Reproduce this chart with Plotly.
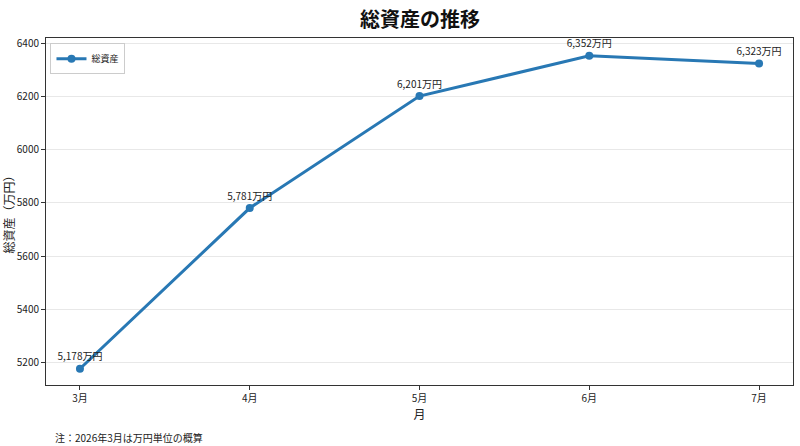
import plotly.graph_objects as go

months = ['3月', '4月', '5月', '6月', '7月']
total_assets = [5178, 5781, 6201, 6352, 6323]
labels = [f'{v:,}万円' for v in total_assets]

FONT = 'Noto Sans CJK JP'
BLUE = '#2878b4'

fig = go.Figure()
fig.add_trace(go.Scatter(
    x=months, y=total_assets, mode='lines+markers+text',
    name='総資産', text=labels, textposition='top center',
    textfont=dict(size=10, color='#222'),
    line=dict(color=BLUE, width=3), marker=dict(color=BLUE, size=8),
    cliponaxis=False,
))

fig.update_layout(
    width=800, height=446,
    font=dict(family=FONT, size=10, color='#222'),
    title=dict(text='<b>総資産の推移</b>', x=0.525, xanchor='center', y=0.97,
               font=dict(size=20, color='#111')),
    paper_bgcolor='white', plot_bgcolor='white',
    margin=dict(l=46, r=7, t=38, b=61, autoexpand=False),
    legend=dict(x=0.006, y=0.985, xanchor='left', yanchor='top',
                bordercolor='#ccc', borderwidth=1, bgcolor='white',
                font=dict(size=9), itemwidth=30, tracegroupgap=0),
    showlegend=True,
    annotations=[dict(text='注：2026年3月は万円単位の概算', xref='paper', yref='paper',
                      x=0.01, y=-0.125, xanchor='left', yanchor='top',
                      showarrow=False, font=dict(size=10))],
)
fig.update_xaxes(range=[-0.2, 4.2], showline=True, linecolor='#333', mirror=True,
                 ticks='outside', ticklen=4, tickcolor='#333', showgrid=False,
                 automargin=False, title=dict(text='月', standoff=4))
fig.update_yaxes(range=[5117, 6419], showline=True, linecolor='#333', mirror=True,
                 ticks='outside', ticklen=4, tickcolor='#333', dtick=200,
                 showgrid=True, gridcolor='#e8e8e8', zeroline=False,
                 automargin=False, title=dict(text='総資産（万円）', standoff=6))

# drop the browser's default page margin so the figure fills the window
fig.write_html('out.html', config={'displayModeBar': False},
               post_script="document.body.style.margin='0';")
